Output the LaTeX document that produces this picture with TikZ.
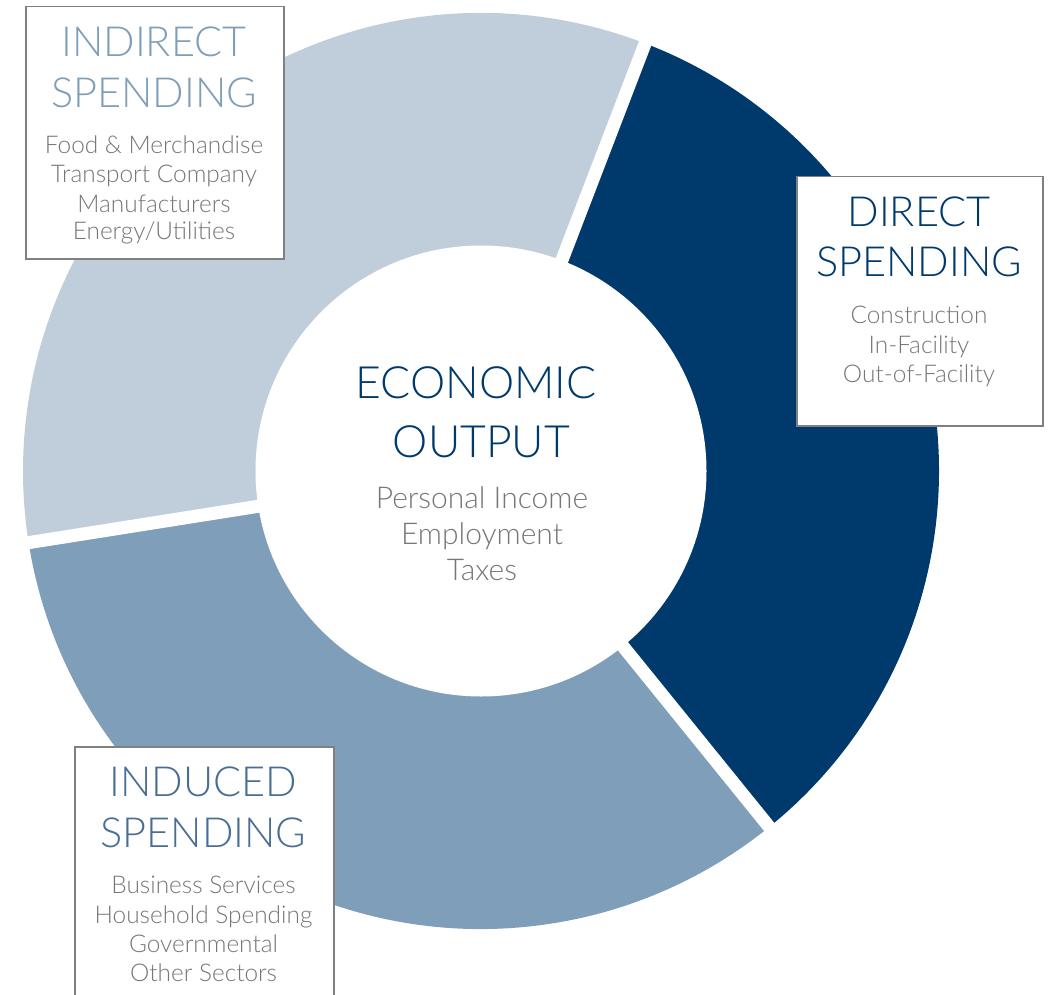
\documentclass[tikz,border=0pt]{standalone}
\usepackage{fontspec}
\setmainfont{Lato Light}
\usetikzlibrary{calc}
\definecolor{navy}{RGB}{0,58,108}
\definecolor{midblue}{RGB}{127,158,185}
\definecolor{lightblue}{RGB}{192,206,220}
\definecolor{titleblue}{RGB}{72,110,150}
\definecolor{itemgray}{RGB}{118,118,118}
\definecolor{boxgray}{RGB}{128,128,128}
\begin{document}
\begin{tikzpicture}[x=1pt,y=1pt,
  labelbox/.style={draw=boxgray, line width=1.5pt, fill=white, inner sep=0pt, anchor=north west},
  bigtitle/.style={anchor=base, inner sep=0pt, font=\fontsize{44.5}{56}\selectfont, text=navy},
  boxtitle/.style={anchor=base, inner sep=0pt, font=\fontsize{41.5}{51}\selectfont},
  item/.style={anchor=base, inner sep=0pt, font=\fontsize{24.4}{29}\selectfont, text=itemgray},
  centeritem/.style={anchor=base, inner sep=0pt, font=\fontsize{30}{36}\selectfont, text=itemgray},
  gapline/.style={white, line width=13pt}]
\useasboundingbox (0,0) rectangle (1049,-995);
\coordinate (c) at (481,-471);
% ring segments
\fill[navy] (c) -- ++(-51:458pt) arc[start angle=-51, end angle=69, radius=458pt] -- cycle;
\fill[lightblue] (c) -- ++(69:458pt) arc[start angle=69, end angle=189, radius=458pt] -- cycle;
\fill[midblue] (c) -- ++(189:458pt) arc[start angle=189, end angle=309, radius=458pt] -- cycle;
\node[circle, fill=white, inner sep=0pt, minimum size=451pt] (hub) at (c) {};
% gaps
\coordinate (g1) at ($(c)+(69:475pt)$);
\coordinate (g2) at ($(c)+(189:475pt)$);
\coordinate (g3) at ($(c)+(309:475pt)$);
\draw[gapline] (c) -- (g1);
\draw[gapline] (c) -- (g2);
\draw[gapline] (c) -- (g3);
% boxes
\node[labelbox, minimum width=258pt, minimum height=252pt] (indbox) at (25,-6) {};
\node[labelbox, minimum width=246pt, minimum height=249pt] (dirbox) at (796,-176) {};
\node[labelbox, minimum width=259pt, minimum height=262pt] (indubox) at (74,-746) {};
% indirect texts
\node[boxtitle, text=midblue] (ia) at (154,-57) {INDIRECT};
\node[boxtitle, text=midblue] (ib) at (154,-108) {SPENDING};
\node[item] (i1) at (154,-154) {Food \& Merchandise};
\node[item] (i2) at (154,-183) {Transport Company};
\node[item] (i3) at (154,-212) {Manufacturers};
\node[item] (i4) at (154,-240) {Energy/Utilities};
% direct texts
\node[boxtitle, text=navy] (da) at (919,-226) {DIRECT};
\node[boxtitle, text=navy] (db) at (919,-276) {SPENDING};
\node[item] (d1) at (919,-323) {Construction};
\node[item] (d2) at (919,-353) {In-Facility};
\node[item] (d3) at (919,-382) {Out-of-Facility};
% induced texts
\node[boxtitle, text=titleblue] (ua) at (203.5,-796) {INDUCED};
\node[boxtitle, text=titleblue] (ub) at (203.5,-847) {SPENDING};
\node[item] (u1) at (203.5,-893) {Business Services};
\node[item] (u2) at (203.5,-923) {Household Spending};
\node[item] (u3) at (203.5,-952) {Governmental};
\node[item] (u4) at (203.5,-981) {Other Sectors};
% center texts
\node[bigtitle] (ca) at (476,-398) {ECONOMIC};
\node[bigtitle] (cb) at (481.5,-457) {OUTPUT};
\node[centeritem] (c1) at (482,-508) {Personal Income};
\node[centeritem] (c2) at (482,-544) {Employment};
\node[centeritem] (c3) at (482,-580) {Taxes};
\end{tikzpicture}
\end{document}
